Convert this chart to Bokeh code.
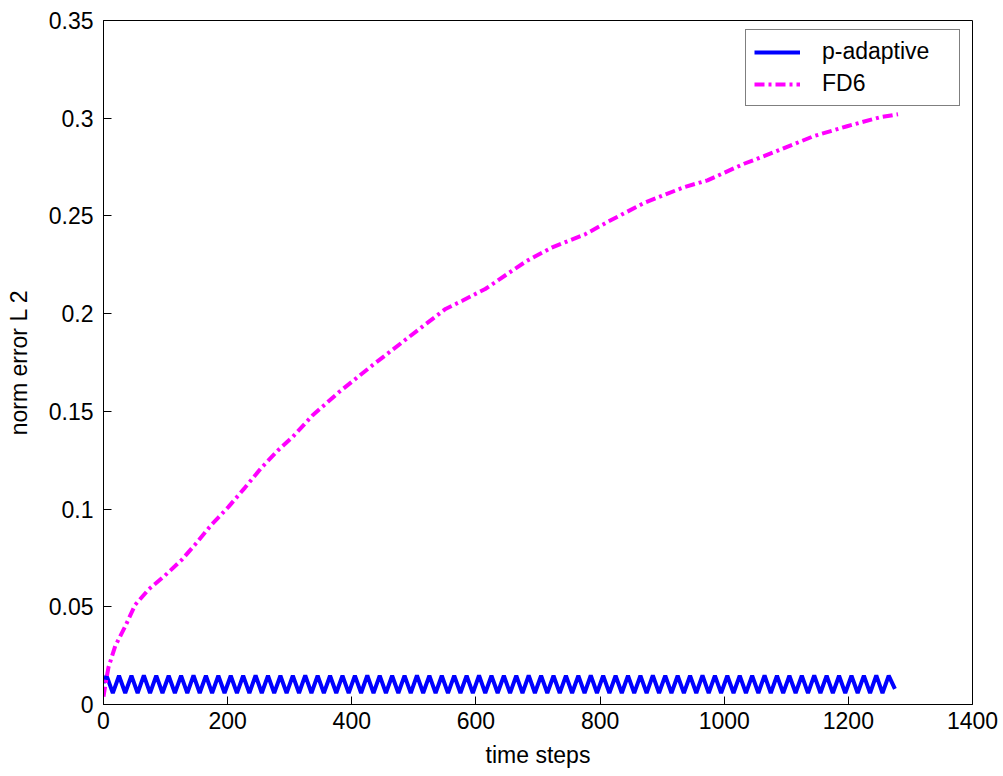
from bokeh.plotting import figure
from bokeh.models import Range1d, FixedTicker, Legend, LegendItem
from bokeh.embed import file_html
from bokeh.resources import INLINE

# ---- data ----
x_ticks = [0, 200, 400, 600, 800, 1000, 1200, 1400]
y_ticks = [0, 0.05, 0.1, 0.15, 0.2, 0.25, 0.3, 0.35]
y_tick_labels = ["0", "0.05", "0.1", "0.15", "0.2", "0.25", "0.3", "0.35"]

fd6_steps = [0, 3, 8, 19, 35, 51, 73, 99, 126, 148, 174, 201, 228, 254, 281,
             305, 337, 380, 433, 492, 551, 578, 615, 658, 682, 722, 776, 813,
             872, 936, 973, 1032, 1064, 1091, 1144, 1198, 1251, 1280]
fd6_error = [0.004, 0.010, 0.019, 0.030, 0.040, 0.051, 0.059, 0.066, 0.074,
             0.082, 0.092, 0.101, 0.111, 0.121, 0.130, 0.137, 0.148, 0.160,
             0.1735, 0.188, 0.2024, 0.2066, 0.2126, 0.2219, 0.227, 0.2338,
             0.2406, 0.2471, 0.2568, 0.2648, 0.2682, 0.2767, 0.2806, 0.2840,
             0.2908, 0.2959, 0.3005, 0.302]

# p-adaptive: alternating peaks and troughs of the oscillation (every 10 steps)
padapt_steps = [0] + list(range(5, 1276, 10))
padapt_error = [0.0110,
    0.0148, 0.0058, 0.0147, 0.0059, 0.0148, 0.0058, 0.0149, 0.0058, 0.0148, 0.0059, 0.0147, 0.0058, 0.0148, 0.0058, 0.0149, 0.0059,
    0.0148, 0.0058, 0.0148, 0.0059, 0.0147, 0.0058, 0.0148, 0.0058, 0.0149, 0.0059, 0.0148, 0.0058, 0.0147, 0.0058, 0.0148, 0.0059,
    0.0149, 0.0058, 0.0148, 0.0058, 0.0147, 0.0059, 0.0148, 0.0058, 0.0148, 0.0059, 0.0149, 0.0058, 0.0148, 0.0058, 0.0147, 0.0059,
    0.0148, 0.0058, 0.0149, 0.0059, 0.0148, 0.0058, 0.0147, 0.0058, 0.0148, 0.0059, 0.0148, 0.0058, 0.0149, 0.0058, 0.0148, 0.0059,
    0.0147, 0.0058, 0.0148, 0.0058, 0.0149, 0.0059, 0.0148, 0.0058, 0.0147, 0.0058, 0.0148, 0.0059, 0.0148, 0.0058, 0.0149, 0.0059,
    0.0148, 0.0058, 0.0147, 0.0059, 0.0148, 0.0058, 0.0148, 0.0058, 0.0149, 0.0059, 0.0148, 0.0058, 0.0147, 0.0058, 0.0148, 0.0059,
    0.0149, 0.0058, 0.0148, 0.0058, 0.0147, 0.0059, 0.0148, 0.0058, 0.0148, 0.0059, 0.0149, 0.0058, 0.0148, 0.0058, 0.0147, 0.0059,
    0.0148, 0.0058, 0.0149, 0.0059, 0.0148, 0.0058, 0.0147, 0.0058, 0.0148, 0.0059, 0.0148, 0.0058, 0.0149, 0.0058, 0.0148, 0.0080,
]

FONT = "Liberation Sans"

p = figure(width=998, height=776, output_backend="svg", toolbar_location=None,
           x_range=Range1d(0, 1400), y_range=Range1d(0, 0.35),
           min_border_left=103, min_border_right=26, min_border_top=20,
           min_border_bottom=72)
p.xgrid.visible = False
p.ygrid.visible = False
p.outline_line_color = "black"
p.outline_line_width = 1
p.background_fill_color = "white"
p.border_fill_color = "white"

r_pa = p.line(padapt_steps, padapt_error, line_color="#0000FF", line_width=4)
r_fd = p.line(fd6_steps, fd6_error, line_color="#FF00FF", line_width=4,
              line_dash="10 4 3 4")

for ax in (p.xaxis[0], p.yaxis[0]):
    ax.axis_line_color = "black"
    ax.major_tick_line_color = "black"
    ax.major_tick_in = 8
    ax.major_tick_out = 0
    ax.minor_tick_line_color = None
    ax.major_label_text_font = FONT
    ax.major_label_text_font_size = "23px"
    ax.major_label_text_color = "black"
    ax.axis_label_text_font = FONT
    ax.axis_label_text_font_size = "23px"
    ax.axis_label_text_font_style = "normal"
    ax.axis_label_text_color = "black"

p.xaxis.ticker = FixedTicker(ticks=x_ticks)
p.yaxis.ticker = FixedTicker(ticks=y_ticks)
p.yaxis.major_label_overrides = {t: l for t, l in zip(y_ticks, y_tick_labels)}
p.xaxis.axis_label = "time steps"
p.yaxis.axis_label = "norm error L 2"
p.xaxis.major_label_standoff = 7
p.yaxis.major_label_standoff = 10
p.xaxis.axis_label_standoff = 10
p.yaxis.axis_label_standoff = 14

legend = Legend(items=[LegendItem(label="p-adaptive", renderers=[r_pa]),
                       LegendItem(label="FD6", renderers=[r_fd])],
                location=(642, 598))
legend.border_line_color = "black"
legend.border_line_width = 1
legend.background_fill_color = "white"
legend.background_fill_alpha = 1
legend.label_text_font = FONT
legend.label_text_font_size = "23px"
legend.label_text_color = "black"
legend.glyph_width = 46
legend.glyph_height = 24
legend.label_height = 24
legend.label_width = 129
legend.label_standoff = 22
legend.padding = 8
legend.spacing = 5
legend.margin = 0
p.add_layout(legend)

open("out.html", "w").write(file_html(p, INLINE))
